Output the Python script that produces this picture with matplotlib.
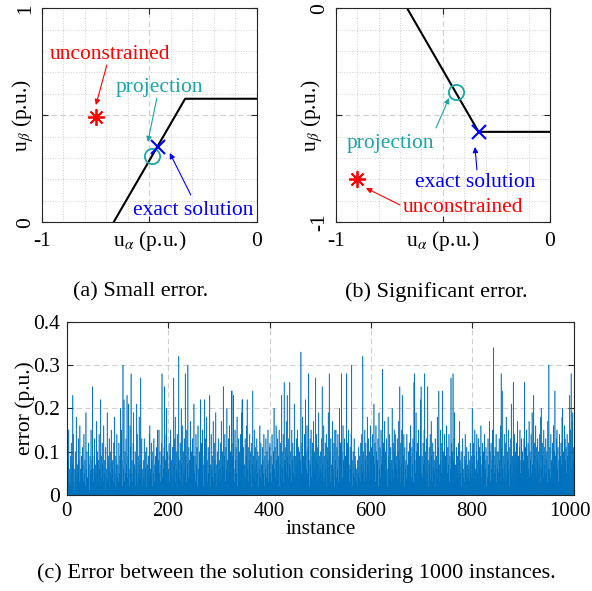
import matplotlib
matplotlib.use('Agg')
import matplotlib.pyplot as plt
import matplotlib.transforms as mtransforms
import numpy as np

plt.rcParams['font.family'] = 'Liberation Serif'
plt.rcParams['mathtext.fontset'] = 'stix'
plt.rcParams['font.size'] = 15.5

W, H = 592, 591

# hexagon edge pieces near the operating point
edge_a_x = [-2/3, -1/3, 0.0]
edge_a_y = [0.0, 1/np.sqrt(3), 1/np.sqrt(3)]
edge_b_x = [-2/3, -1/3, 0.0]
edge_b_y = [0.0, -1/np.sqrt(3), -1/np.sqrt(3)]

# points: unconstrained, projection, exact
unc_a = (-0.75, 0.49)
proj_a = (-0.487, 0.31)
exact_a = (-0.462, 0.354)
unc_b = (-0.90, -0.80)
proj_b = (-0.44, -0.393)
exact_b = (-1/3, -1/np.sqrt(3))

# error per instance, in hundredths of p.u.
err_hundredths = [
    11, 4, 8, 15, 3, 6, 2, 9, 12, 5, 7, 23, 14, 3, 1, 6, 10, 4, 18, 2, 7, 5, 13, 8, 3, 16, 6, 2, 9, 4, 11, 7, 3, 14, 5, 8, 2, 19, 6, 10, 4, 3, 12, 7, 1, 9, 5, 15, 6, 8,
    25, 6, 3, 9, 13, 4, 7, 2, 17, 5, 10, 3, 8, 14, 6, 2, 22, 9, 4, 12, 7, 3, 16, 5, 8, 1, 11, 6, 4, 19, 3, 9, 7, 13, 2, 5, 10, 15, 4, 8, 6, 3, 12, 18, 5, 2, 9, 7, 14, 4,
    7, 3, 12, 5, 9, 20, 4, 15, 8, 2, 30, 6, 22, 3, 10, 5, 13, 7, 23, 4, 9, 21, 6, 2, 16, 11, 28, 5, 8, 3, 12, 19, 4, 7, 10, 2, 6, 21, 14, 3, 9, 5, 18, 7, 4, 27, 8, 13, 2, 6,
    4, 8, 13, 3, 6, 10, 2, 11, 7, 5, 9, 3, 14, 16, 6, 4, 12, 8, 2, 10, 5, 13, 3, 7, 9, 4, 11, 6, 15, 2, 8, 15, 5, 10, 3, 7, 12, 28, 4, 9, 6, 11, 25, 3, 8, 14, 20, 5, 10, 2,
    6, 12, 3, 9, 15, 5, 8, 2, 11, 4, 27, 7, 13, 18, 3, 10, 6, 14, 5, 9, 32, 4, 8, 12, 3, 20, 7, 16, 2, 10, 5, 13, 6, 28, 9, 3, 15, 7, 30, 4, 11, 8, 2, 17, 6, 10, 3, 13, 5, 9,
    21, 5, 9, 3, 14, 7, 11, 2, 16, 6, 4, 10, 8, 22, 3, 12, 5, 15, 7, 2, 9, 22, 6, 13, 4, 18, 8, 3, 11, 5, 10, 23, 7, 2, 14, 6, 9, 4, 17, 3, 12, 8, 5, 19, 2, 7, 10, 4, 13, 6,
    8, 3, 12, 6, 17, 4, 10, 7, 25, 5, 9, 14, 3, 11, 6, 20, 8, 2, 13, 5, 16, 7, 10, 4, 24, 24, 9, 12, 23, 6, 3, 15, 8, 11, 5, 18, 2, 9, 13, 6, 10, 4, 14, 7, 19, 22, 22, 5, 11, 3,
    7, 13, 4, 9, 16, 22, 6, 11, 3, 8, 14, 5, 10, 2, 12, 7, 24, 9, 4, 15, 6, 11, 3, 8, 13, 5, 10, 2, 9, 6, 16, 4, 12, 7, 3, 11, 8, 5, 14, 2, 9, 6, 13, 4, 10, 7, 15, 3, 8, 11,
    12, 5, 9, 3, 14, 7, 2, 10, 20, 6, 11, 4, 16, 8, 3, 13, 5, 9, 15, 2, 7, 12, 4, 23, 10, 6, 14, 3, 26, 8, 8, 11, 5, 17, 23, 9, 4, 13, 7, 26, 6, 10, 3, 15, 8, 12, 5, 9, 21, 4,
    9, 4, 13, 7, 15, 3, 11, 6, 10, 2, 8, 33, 5, 12, 18, 4, 9, 7, 14, 3, 22, 10, 6, 16, 5, 11, 28, 8, 2, 13, 7, 15, 4, 9, 12, 3, 17, 6, 10, 5, 27, 8, 14, 3, 11, 7, 19, 4, 9, 6,
    10, 5, 13, 25, 7, 3, 16, 9, 4, 12, 6, 14, 2, 11, 8, 19, 5, 28, 10, 3, 13, 7, 4, 17, 9, 6, 12, 2, 15, 8, 15, 4, 11, 6, 14, 3, 9, 20, 5, 12, 7, 28, 10, 4, 16, 8, 3, 13, 6, 9,
    5, 28, 9, 12, 4, 15, 7, 3, 11, 6, 14, 30, 8, 2, 10, 5, 13, 4, 9, 7, 3, 6, 2, 8, 5, 11, 4, 9, 3, 12, 7, 14, 5, 32, 10, 6, 3, 15, 8, 12, 4, 9, 18, 7, 13, 5, 10, 3, 16, 8,
    11, 6, 14, 4, 9, 21, 7, 12, 3, 16, 10, 5, 8, 13, 2, 19, 6, 11, 4, 15, 7, 9, 29, 5, 12, 3, 17, 8, 10, 4, 13, 6, 2, 18, 9, 5, 14, 7, 11, 3, 8, 20, 6, 12, 4, 15, 10, 14, 7, 9,
    6, 13, 4, 10, 17, 8, 25, 3, 12, 7, 15, 23, 5, 9, 14, 2, 11, 6, 8, 4, 14, 7, 3, 10, 5, 12, 6, 16, 9, 4, 11, 7, 13, 3, 26, 28, 8, 5, 19, 10, 4, 12, 6, 15, 3, 9, 7, 22, 25, 5,
    9, 4, 12, 7, 15, 28, 6, 10, 3, 13, 5, 25, 8, 2, 11, 7, 14, 4, 17, 9, 3, 12, 6, 10, 5, 8, 13, 2, 9, 6, 18, 4, 11, 24, 7, 3, 15, 8, 5, 12, 24, 6, 10, 3, 14, 7, 9, 4, 16, 11,
    5, 11, 7, 14, 3, 9, 6, 27, 12, 4, 10, 28, 8, 13, 19, 5, 7, 2, 11, 6, 9, 4, 12, 3, 17, 8, 5, 10, 2, 7, 13, 6, 4, 9, 3, 14, 8, 5, 11, 7, 4, 10, 6, 3, 8, 12, 5, 9, 4, 20,
    7, 12, 4, 9, 15, 6, 3, 10, 14, 5, 8, 13, 2, 11, 6, 9, 16, 4, 7, 12, 3, 10, 5, 14, 8, 6, 11, 2, 9, 4, 13, 7, 5, 17, 10, 3, 12, 6, 8, 15, 4, 34, 9, 5, 11, 7, 14, 3, 10, 6,
    10, 5, 13, 8, 3, 16, 28, 11, 24, 6, 9, 4, 14, 7, 12, 3, 18, 5, 10, 8, 15, 6, 2, 11, 7, 13, 21, 4, 9, 5, 26, 8, 14, 3, 10, 6, 12, 4, 17, 7, 9, 3, 11, 15, 5, 8, 13, 4, 10, 6,
    8, 13, 26, 5, 11, 7, 15, 3, 9, 12, 6, 17, 4, 10, 8, 14, 5, 19, 7, 3, 23, 9, 12, 6, 16, 4, 11, 8, 13, 5, 10, 7, 14, 3, 18, 20, 6, 12, 9, 4, 15, 7, 11, 5, 13, 8, 10, 3, 17, 6,
    30, 6, 11, 4, 14, 8, 3, 12, 7, 16, 5, 10, 24, 9, 4, 13, 15, 6, 11, 3, 8, 14, 5, 9, 12, 7, 18, 20, 4, 10, 6, 16, 13, 8, 11, 5, 14, 9, 7, 12, 4, 23, 10, 15, 28, 6, 17, 19, 8, 11,
]
err = np.array(err_hundredths) / 100.0
instance = np.arange(1, len(err) + 1)

AX_COL = '#262626'
GRID_COL = '#d0d0d0'
RED = '#ff0000'
CYAN = '#1aa6a6'
BLUE = '#0000ff'


def px_axes(fig, left, top, right, bottom):
    return fig.add_axes([left / W, 1 - bottom / H, (right - left) / W, (bottom - top) / H])


def style_axes(ax):
    for s in ax.spines.values():
        s.set_color(AX_COL)
        s.set_linewidth(0.8)
    ax.tick_params(which='both', direction='in', top=True, right=True, colors=AX_COL,
                   labelcolor='black', length=4)
    ax.tick_params(which='minor', length=0)


def plane_axes(ax, ylim, ylab_x):
    ax.set_xlim(-1, 0)
    ax.set_ylim(*ylim)
    ax.set_xticks([-1, -0.5, 0])
    ax.set_xticklabels(['-1', '', '0'])
    yt = [ylim[0], (ylim[0] + ylim[1]) / 2, ylim[1]]
    ax.set_yticks(yt)
    ax.set_yticklabels(['%d' % ylim[0], '', '%d' % ylim[1]], rotation=90, va='center')
    ax.set_xticks(np.arange(-1, 0.01, 0.1), minor=True)
    ax.set_yticks(np.arange(ylim[0], ylim[1] + 0.01, 0.1), minor=True)
    ax.grid(True, which='major', ls=(0, (5, 3)), color=GRID_COL, lw=0.8)
    ax.grid(True, which='minor', ls=':', color=GRID_COL, lw=0.7)
    ax.set_axisbelow(True)
    style_axes(ax)
    ax.tick_params(axis='x', pad=7)
    ax.tick_params(axis='y', pad=5)
    ax.set_xlabel(r'u$_\alpha$ (p.u.)')
    ax.set_ylabel(r'u$_\beta$ (p.u.)')
    ax.xaxis.set_label_coords(0.5, -0.03, transform=ax.transAxes)
    ax.xaxis.label.set_va('top')
    ax.yaxis.set_label_coords(ylab_x, 0.5, transform=ax.transAxes)
    ax.yaxis.label.set_va('center')


fig = plt.figure(figsize=(W / 100, H / 100), dpi=100)

arrow_kw = dict(arrowstyle='-|>', lw=0.8, mutation_scale=8, shrinkA=0, shrinkB=0)

# (a) small error
ax1 = px_axes(fig, 42, 8.3, 256.7, 222.3)
plane_axes(ax1, (0, 1), -0.09)
ax1.plot(edge_a_x, edge_a_y, color='black', lw=1.5)
ax1.plot(*unc_a, marker=(8, 2, 0), color=RED, ms=12, mew=1.3)
ax1.plot(*proj_a, marker='o', mfc='none', mec=CYAN, ms=11, mew=1.3)
ax1.plot(*exact_a, marker='x', color=BLUE, ms=10, mew=1.5)
ax1.text(-0.684, 0.782, 'unconstrained', color=RED, ha='center', va='center')
ax1.annotate('', xy=(-0.749, 0.548), xytext=(-0.698, 0.735),
             arrowprops=dict(color=RED, **arrow_kw))
ax1.text(-0.451, 0.632, 'projection', color=CYAN, ha='center', va='center')
ax1.annotate('', xy=(-0.507, 0.375), xytext=(-0.465, 0.581),
             arrowprops=dict(color=CYAN, **arrow_kw))
ax1.text(-0.298, 0.057, 'exact solution', color=BLUE, ha='center', va='center')
ax1.annotate('', xy=(-0.405, 0.324), xytext=(-0.307, 0.128),
             arrowprops=dict(color=BLUE, **arrow_kw))

# (b) significant error
ax2 = px_axes(fig, 335.7, 8.3, 550, 222.3)
plane_axes(ax2, (-1, 0), -0.11)
ax2.plot(edge_b_x, edge_b_y, color='black', lw=1.5)
ax2.plot(*unc_b, marker=(8, 2, 0), color=RED, ms=12, mew=1.3)
ax2.plot(*proj_b, marker='o', mfc='none', mec=CYAN, ms=11, mew=1.3)
ax2.plot(*exact_b, marker='x', color=BLUE, ms=10, mew=1.5)
ax2.text(-0.747, -0.63, 'projection', color=CYAN, ha='center', va='center')
ax2.annotate('', xy=(-0.471, -0.419), xytext=(-0.532, -0.559),
             arrowprops=dict(color=CYAN, **arrow_kw))
ax2.text(-0.35, -0.816, 'exact solution', color=BLUE, ha='center', va='center')
ax2.annotate('', xy=(-0.35, -0.648), xytext=(-0.341, -0.755),
             arrowprops=dict(color=BLUE, **arrow_kw))
ax2.text(-0.406, -0.933, 'unconstrained', color=RED, ha='center', va='center')
ax2.annotate('', xy=(-0.859, -0.84), xytext=(-0.70, -0.919),
             arrowprops=dict(color=RED, **arrow_kw))

# (c) error over all instances
ax3 = px_axes(fig, 66.7, 321.7, 573.7, 495)
bars = ax3.bar(instance, err, width=0.8, color='#0072bd', edgecolor='#0072bd', lw=0.35)
for b in bars:
    b.set_snap(False)
ax3.set_xlim(0, 1000)
ax3.set_ylim(0, 0.4)
ax3.set_xticks(np.arange(0, 1001, 200))
ax3.set_yticks([0, 0.1, 0.2, 0.3, 0.4])
ax3.set_yticklabels(['0', '0.1', '0.2', '0.3', '0.4'])
ax3.grid(True, ls=(0, (5, 3)), color=GRID_COL, lw=0.8)
ax3.set_axisbelow(True)
style_axes(ax3)
ax3.tick_params(axis='x', pad=5, labelsize=15)
ax3.tick_params(axis='y', pad=5)
# pull the last x label in so it stays on the canvas
last = ax3.xaxis.get_major_ticks()[-1].label1
last.set_transform(last.get_transform() +
                   mtransforms.ScaledTranslation(-0.035, 0, fig.dpi_scale_trans))
ax3.set_xlabel('instance', labelpad=-1)
ax3.set_ylabel('error (p.u.)')
ax3.yaxis.set_label_coords(-0.082, 0.5, transform=ax3.transAxes)
ax3.yaxis.label.set_va('center')

fig.text(141 / W, 1 - 292 / H, '(a) Small error.', ha='center', va='center', fontsize=16)
fig.text(436 / W, 1 - 292 / H, '(b) Significant error.', ha='center', va='center', fontsize=16)
fig.text(296 / W, 1 - 573 / H, '(c) Error between the solution considering 1000 instances.',
         ha='center', va='center', fontsize=16)

fig.savefig('out.png', dpi=100)
